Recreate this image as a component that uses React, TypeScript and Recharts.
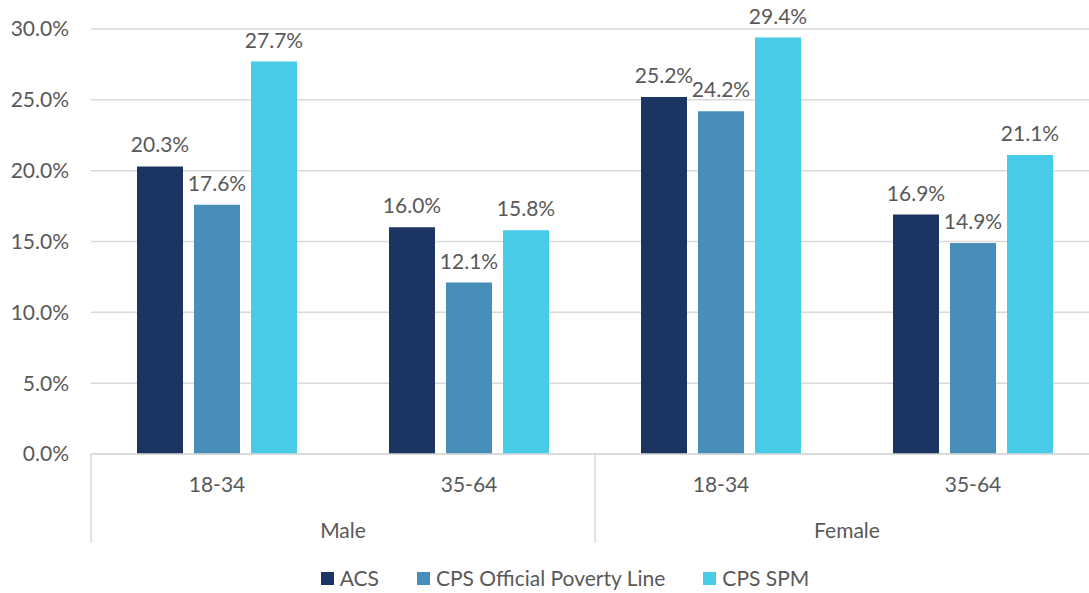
import React from "react";
import { BarChart, Bar, XAxis, YAxis, CartesianGrid, LabelList } from "recharts";

// categories: age band inside sex group
const ages = ["18-34", "35-64", "18-34", "35-64"];
const sexes = ["Male", "Male", "Female", "Female"];

const acs = [20.3, 16.0, 25.2, 16.9];
const cpsOfficial = [17.6, 12.1, 24.2, 14.9];
const cpsSpm = [27.7, 15.8, 29.4, 21.1];

const yTicks = [0, 5, 10, 15, 20, 25, 30];

const series = [
  { key: "acs", name: "ACS", color: "#1b3461" },
  { key: "official", name: "CPS Official Poverty Line", color: "#478fb9" },
  { key: "spm", name: "CPS SPM", color: "#47cbe7" },
];

const data = ages.map((age, i) => ({
  age,
  sex: sexes[i],
  acs: acs[i],
  official: cpsOfficial[i],
  spm: cpsSpm[i],
}));

const TEXT = "#595959";
const GRID = "#d9d9d9";
const FONT = 21;

const pct = (v: number) => `${Number(v).toFixed(1)}%`;

function AgeTick(props: any) {
  const { x, y, payload, index, width, visibleTicksCount } = props;
  const half = payload?.offset || width / visibleTicksCount / 2;
  const sex = data[index].sex;
  const isStart = index === 0 || data[index - 1].sex !== sex;
  const isLast = index === data.length - 1;
  const n = data.filter((d) => d.sex === sex).length;
  return (
    <g>
      <text x={x} y={y + 29} textAnchor="middle" dominantBaseline="central" fill={TEXT} fontSize={FONT}>
        {payload.value}
      </text>
      {isStart && (
        <>
          <line x1={x - half} x2={x - half} y1={y} y2={y + 89} stroke={GRID} strokeWidth={1.5} />
          <text x={x + (n - 1) * half} y={y + 75} textAnchor="middle" dominantBaseline="central" fill={TEXT} fontSize={FONT}>
            {sex}
          </text>
        </>
      )}
      {isLast && <line x1={x + half} x2={x + half} y1={y} y2={y + 89} stroke={GRID} strokeWidth={1.5} />}
    </g>
  );
}

export default function App() {
  return (
    <div style={{ position: "absolute", left: 0, top: 0, width: 1089, height: 593, overflow: "hidden", background: "#fff", fontFamily: "Lato, sans-serif" }}>
      <BarChart width={1099} height={593} data={data} margin={{ top: 29, right: 0, left: 0, bottom: 0 }} barSize={46} barGap={11}>
        <CartesianGrid vertical={false} stroke={GRID} strokeWidth={1.5} />
        <XAxis
          dataKey="age"
          height={139}
          interval={0}
          tickLine={false}
          tickSize={0}
          tickMargin={0}
          axisLine={{ stroke: GRID, strokeWidth: 1.5 }}
          tick={<AgeTick />}
        />
        <YAxis
          width={91}
          domain={[0, 30]}
          ticks={yTicks}
          tickFormatter={pct}
          axisLine={false}
          tickLine={false}
          tickSize={0}
          tickMargin={22}
          tick={{ fill: TEXT, fontSize: FONT }}
        />
        {series.map((s) => (
          <Bar key={s.key} dataKey={s.key} name={s.name} fill={s.color} isAnimationActive={false}>
            <LabelList dataKey={s.key} position="top" offset={14} formatter={(v: any) => pct(v)} fill={TEXT} fontSize={FONT} />
          </Bar>
        ))}
      </BarChart>
      <div style={{ position: "absolute", left: 0, top: 565, width: 1089, paddingLeft: 41, boxSizing: "border-box", display: "flex", justifyContent: "center", gap: 38, color: TEXT, fontSize: FONT, lineHeight: "26px" }}>
        {series.map((s) => (
          <div key={s.key} style={{ display: "flex", alignItems: "center", gap: 6 }}>
            <span style={{ width: 13, height: 13, background: s.color, display: "inline-block" }} />
            <span>{s.name}</span>
          </div>
        ))}
      </div>
    </div>
  );
}
